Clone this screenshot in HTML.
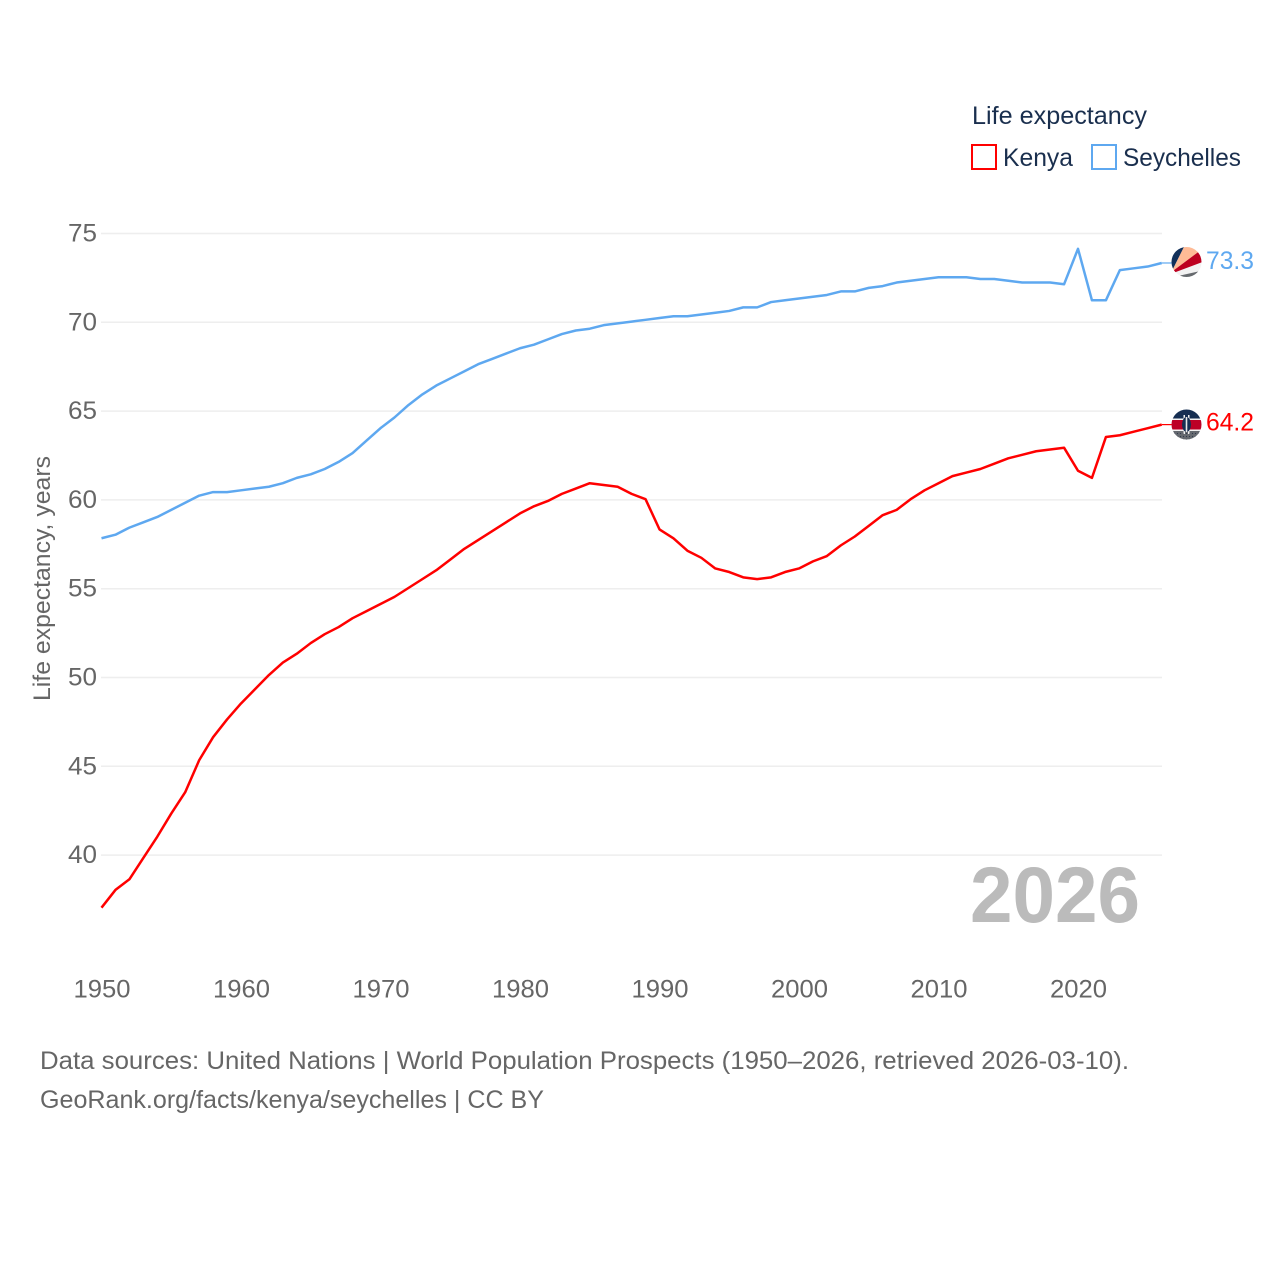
<!DOCTYPE html>
<html lang="en">
<head>
<meta charset="utf-8">
<title>Life expectancy: Kenya and Seychelles</title>
<style>
html,body{margin:0;padding:0;background:#fff;}
svg{display:block;}
text{font-family:"Liberation Sans",sans-serif;}
</style>
</head>
<body>
<svg id="chart" xmlns="http://www.w3.org/2000/svg" width="1280" height="1280" viewBox="0 0 1280 1280">
  <defs>
    <clipPath id="clip-sc"><circle cx="1186.5" cy="262" r="15"/></clipPath>
    <clipPath id="clip-ke"><circle cx="1186.5" cy="424.5" r="15"/></clipPath>
    <pattern id="dots" width="3" height="3" patternUnits="userSpaceOnUse"><rect width="3" height="3" fill="#666a70"/><circle cx="1.5" cy="1.5" r="0.6" fill="#2f3a4a"/></pattern>
  </defs>
  <rect width="1280" height="1280" fill="#fff"/>
  <g id="grid"></g>
  <g id="yticks"></g>
  <g id="xticks"></g>
  <text transform="translate(50,701) rotate(-90)" font-size="24" fill="#666" textLength="245" lengthAdjust="spacingAndGlyphs">Life expectancy, years</text>
  <g id="series"></g>

  <g>
    <text x="972" y="124" font-size="25" fill="#1a2f4e" textLength="175" lengthAdjust="spacingAndGlyphs">Life expectancy</text>
    <rect x="972" y="145" width="24" height="24" fill="none" stroke="#ff0000" stroke-width="2"/>
    <text x="1003" y="166" font-size="25" fill="#1a2f4e" textLength="70" lengthAdjust="spacingAndGlyphs">Kenya</text>
    <rect x="1092" y="145" width="24" height="24" fill="none" stroke="#5ea8f0" stroke-width="2"/>
    <text x="1123" y="166" font-size="25" fill="#1a2f4e" textLength="118" lengthAdjust="spacingAndGlyphs">Seychelles</text>
  </g>

  <g clip-path="url(#clip-sc)">
    <rect x="1170" y="245" width="34" height="34" fill="#f2f2f2"/>
    <polygon points="1171.5,272 1186,243 1165,243 1165,272" fill="#12305a"/>
    <polygon points="1171.5,272 1186,243 1205,243 1205,247" fill="#ffbb96"/>
    <polygon points="1171.5,272 1205,247 1205,261 1171.5,273.6" fill="#bd0020"/>
    <polygon points="1172,277.5 1178,276 1205,270 1205,285 1172,285" fill="#666a6e"/>
  </g>

  <g clip-path="url(#clip-ke)">
    <rect x="1170" y="408" width="34" height="34" fill="#f2f2f2"/>
    <rect x="1170" y="408" width="34" height="10.5" fill="#162e52"/>
    <rect x="1170" y="420" width="34" height="9.5" fill="#bd0026"/>
    <rect x="1170" y="431" width="34" height="10" fill="url(#dots)"/>
    <rect x="1183.5" y="415" width="1.5" height="19" fill="#f2f2f2"/>
    <rect x="1188" y="415" width="1.5" height="19" fill="#f2f2f2"/>
    <ellipse cx="1186.5" cy="424.5" rx="4.5" ry="7.5" fill="#162e52"/>
    <rect x="1185.7" y="417" width="1.6" height="15" fill="#e8e8e8"/>
  </g>

  <text x="970" y="922" font-size="79" font-weight="700" fill="#bbbbbb" textLength="170" lengthAdjust="spacingAndGlyphs">2026</text>

  <g>
    <text x="40" y="1069" font-size="25" fill="#666" textLength="1089" lengthAdjust="spacingAndGlyphs">Data sources: United Nations | World Population Prospects (1950–2026, retrieved 2026-03-10).</text>
    <text x="40" y="1108" font-size="25" fill="#666" textLength="504" lengthAdjust="spacingAndGlyphs">GeoRank.org/facts/kenya/seychelles | CC BY</text>
  </g>
</svg>
<script>
const years = [];
for (let yr = 1950; yr <= 2026; yr++) years.push(yr);
const kenyaValues = [37.0,38.0,38.6,39.8,41.0,42.3,43.5,45.3,46.6,47.6,48.5,49.3,50.1,50.8,51.3,51.9,52.4,52.8,53.3,53.7,54.1,54.5,55.0,55.5,56.0,56.6,57.2,57.7,58.2,58.7,59.2,59.6,59.9,60.3,60.6,60.9,60.8,60.7,60.3,60.0,58.3,57.8,57.1,56.7,56.1,55.9,55.6,55.5,55.6,55.9,56.1,56.5,56.8,57.4,57.9,58.5,59.1,59.4,60.0,60.5,60.9,61.3,61.5,61.7,62.0,62.3,62.5,62.7,62.8,62.9,61.6,61.2,63.5,63.6,63.8,64.0,64.2];
const seychellesValues = [57.8,58.0,58.4,58.7,59.0,59.4,59.8,60.2,60.4,60.4,60.5,60.6,60.7,60.9,61.2,61.4,61.7,62.1,62.6,63.3,64.0,64.6,65.3,65.9,66.4,66.8,67.2,67.6,67.9,68.2,68.5,68.7,69.0,69.3,69.5,69.6,69.8,69.9,70.0,70.1,70.2,70.3,70.3,70.4,70.5,70.6,70.8,70.8,71.1,71.2,71.3,71.4,71.5,71.7,71.7,71.9,72.0,72.2,72.3,72.4,72.5,72.5,72.5,72.4,72.4,72.3,72.2,72.2,72.2,72.1,74.1,71.2,71.2,72.9,73.0,73.1,73.3];
const yTickValues = [40,45,50,55,60,65,70,75];
const xTickValues = [1950,1960,1970,1980,1990,2000,2010,2020];
const kenyaColor = '#ff0000';
const seychellesColor = '#5ea8f0';

const SVG_NS = 'http://www.w3.org/2000/svg';
const xScale = function (year) { return 101.5 + (year - 1950) * 13.95; };
const yScale = function (value) { return 233.5 + (75 - value) * 17.76; };
const lineY = function (value) { return yScale(value) - 0.7; };

function make(tag, parentId) {
  const el = document.createElementNS(SVG_NS, tag);
  document.getElementById(parentId).appendChild(el);
  return el;
}

yTickValues.forEach(function (value) {
  const line = make('line', 'grid');
  
  
  line.setAttribute('x1', 101);
  line.setAttribute('x2', 1162);
  line.setAttribute('y1', yScale(value));
  line.setAttribute('y2', yScale(value));
  line.setAttribute('stroke', '#eeeeee');
  line.setAttribute('stroke-width', 1.5);

  const label = make('text', 'yticks');
  
  
  label.setAttribute('x', 68);
  label.setAttribute('y', yScale(value) + 8);
  label.setAttribute('font-size', 25);
  label.setAttribute('fill', '#666');
  label.setAttribute('textLength', 29);
  label.setAttribute('lengthAdjust', 'spacingAndGlyphs');
  label.textContent = value;
});

xTickValues.forEach(function (year) {
  const label = make('text', 'xticks');
  
  
  label.setAttribute('x', xScale(year) - 28);
  label.setAttribute('y', 997.5);
  label.setAttribute('font-size', 25);
  label.setAttribute('fill', '#666');
  label.setAttribute('textLength', 57);
  label.setAttribute('lengthAdjust', 'spacingAndGlyphs');
  label.textContent = year;
});

function drawSeries(values, color, lineName, connectorName, valueName) {
  const d = values.map(function (v, i) {
    return (i ? 'L' : 'M') + xScale(years[i]).toFixed(2) + ' ' + lineY(v).toFixed(2);
  }).join(' ');
  const path = make('path', 'series');
  
  
  path.setAttribute('d', d);
  path.setAttribute('fill', 'none');
  path.setAttribute('stroke', color);
  path.setAttribute('stroke-width', 2.5);
  path.setAttribute('stroke-linejoin', 'round');

  const last = values[values.length - 1];
  const connector = make('line', 'series');
  
  
  connector.setAttribute('x1', xScale(years[years.length - 1]));
  connector.setAttribute('x2', 1172);
  connector.setAttribute('y1', lineY(last));
  connector.setAttribute('y2', lineY(last));
  connector.setAttribute('stroke', color);
  connector.setAttribute('stroke-width', 1.2);

  const label = make('text', 'series');
  
  
  label.setAttribute('x', 1206);
  label.setAttribute('y', lineY(last) + 6);
  label.setAttribute('font-size', 25);
  label.setAttribute('fill', color);
  label.setAttribute('textLength', 48);
  label.setAttribute('lengthAdjust', 'spacingAndGlyphs');
  label.textContent = last.toFixed(1);
}

drawSeries(seychellesValues, seychellesColor, 'seychelles-line', 'seychelles-connector', 'seychelles-end-value');
drawSeries(kenyaValues, kenyaColor, 'kenya-line', 'kenya-connector', 'kenya-end-value');
</script>
</body>
</html>
